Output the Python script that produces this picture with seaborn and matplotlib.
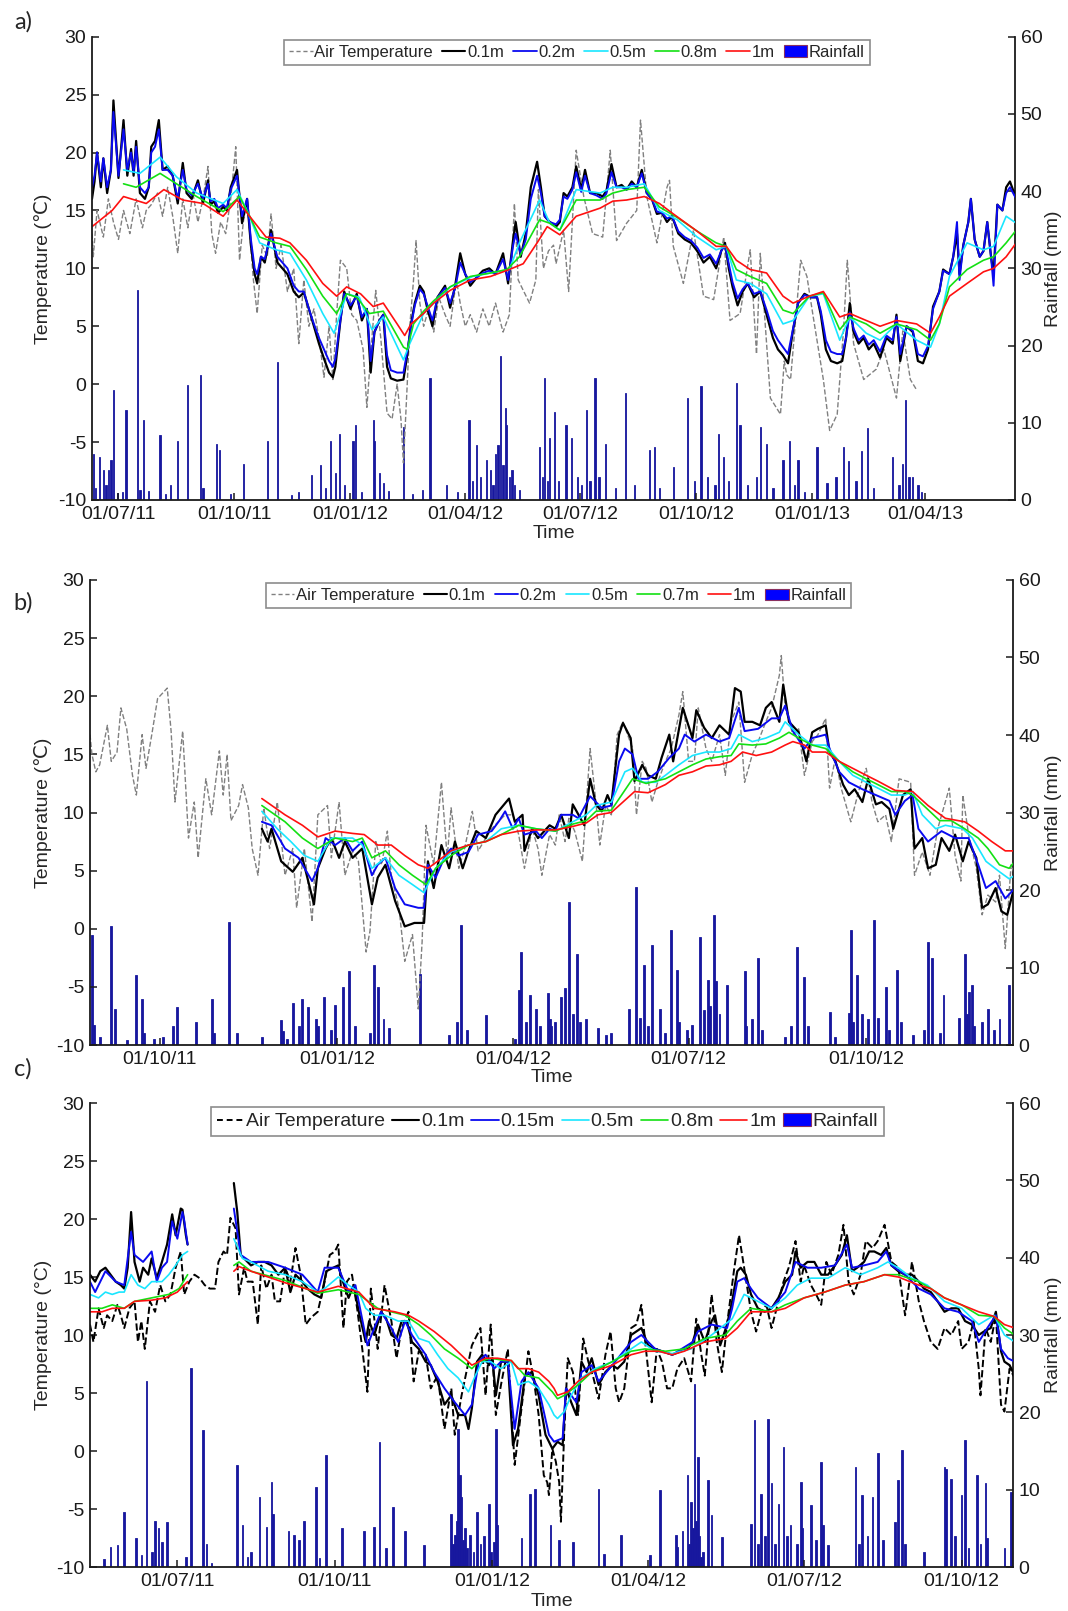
import numpy as np
import pandas as pd
import matplotlib
matplotlib.use("Agg")
import matplotlib.pyplot as plt
from matplotlib.lines import Line2D
from matplotlib.patches import Patch
import seaborn as sns

# ------------------------------------------------------------------ data
# (day offset from panel start, value)
# ---------------- panel a (start 2011-06-10)
a_start = "2011-06-10"
a_air = [(0,13.0),(1,11.0),(4,15.0),(9,12.7),(13,16.0),(17,14.0),(21,12.5),(25,15.0),(30,13.0),(35,16.0),(40,13.5),(43,15.0),(47,15.5),(52,16.5),(56,14.5),(60,17.0),(64,14.5),(68,11.3),(72,16.0),(76,13.5),(80,16.5),(84,14.0),(88,16.0),(92,18.8),(95,13.0),(98,11.3),(102,14.0),(106,13.0),(110,16.0),(114,20.5),(117,10.7),(120,14.0),(123,16.0),(128,9.0),(131,6.1),(135,12.0),(139,11.0),(142,14.7),(146,10.0),(150,12.0),(155,8.0),(160,10.0),(164,3.5),(168,9.0),(172,5.0),(176,6.5),(180,4.0),(184,0.6),(188,5.0),(191,0.4),(194,6.0),(197,10.7),(202,10.0),(206,6.0),(210,5.5),(215,3.0),(218,-2.0),(222,4.0),(225,8.1),(229,4.0),(234,-2.5),(238,-3.0),(242,0.0),(245,-3.0),(247,-6.8),(250,0.0),(252,5.0),(255,9.0),(257,12.4),(260,7.0),(263,5.0),(267,6.5),(271,4.5),(275,7.5),(280,6.0),(284,5.0),(289,9.0),(292,7.0),(296,5.0),(300,6.0),(305,4.5),(310,6.5),(315,5.0),(320,7.0),(326,4.5),(331,6.0),(335,15.6),(338,9.0),(342,8.1),(347,7.0),(352,9.0),(354,16.8),(358,10.0),(362,11.5),(366,12.0),(368,10.4),(374,13.3),(378,8.0),(384,20.2),(390,16.2),(397,13.0),(405,12.7),(411,20.2),(416,12.4),(424,13.9),(432,15.0),(435,22.8),(440,16.2),(448,12.2),(456,17.0),(458,17.6),(461,11.9),(469,8.7),(477,13.3),(485,7.6),(493,7.3),(501,12.7),(506,5.5),(514,6.1),(522,11.6),(527,2.6),(530,11.3),(538,-1.2),(546,-2.6),(549,2.0),(551,0.8),(554,0.4),(562,10.7),(567,9.3),(572,5.8),(580,0.4),(585,-4.0),(591,-2.6),(596,4.7),(599,10.7),(604,3.5),(612,0.4),(622,1.3),(628,3.0),(638,-1.2),(643,4.6),(649,0.4),(654,-0.5)]
# (day, 0.1m, 0.2m)
a_shallow = [(0,16.0,17.0),(2,17.5,18.0),(4,20.0,20.0),(7,17.0,17.5),(9,19.5,19.5),(12,16.5,17.0),(15,18.5,18.5),(17,24.5,23.5),(21,17.8,18.0),(25,22.8,22.0),(28,18.0,18.5),(31,20.3,20.0),(33,18.0,18.3),(35,21.0,20.5),(38,16.5,17.0),(42,16.0,16.5),(45,17.0,17.0),(47,20.5,20.0),(50,21.0,20.5),(53,22.8,22.0),(56,18.5,18.5),(60,18.8,18.5),(64,18.0,18.0),(68,15.6,16.0),(72,19.1,18.5),(75,16.5,16.8),(79,16.0,16.3),(84,17.6,17.3),(88,15.6,16.0),(92,17.6,17.3),(94,15.5,15.8),(97,15.8,16.0),(100,14.8,15.2),(104,15.3,15.5),(107,15.0,15.2),(110,17.0,16.8),(115,18.5,18.0),(119,13.9,14.5),(123,16.0,16.0),(126,12.0,12.5),(129,9.5,10.0),(131,8.7,9.5),(134,11.0,11.0),(137,10.5,10.8),(142,13.3,13.0),(147,10.5,11.0),(151,10.0,10.5),(155,9.5,10.0),(160,8.0,8.5),(164,7.5,8.0),(168,7.9,8.0),(172,6.5,6.5),(176,5.0,5.2),(180,3.5,4.0),(184,2.2,3.0),(188,1.0,2.0),(191,0.6,1.5),(193,1.5,2.2),(197,5.5,5.5),(200,8.0,7.8),(205,6.5,6.8),(210,7.8,7.6),(214,5.5,5.8),(218,6.5,6.5),(221,1.0,2.0),(224,4.5,4.5),(228,5.5,5.5),(231,6.0,6.0),(234,1.5,2.5),(237,0.5,1.2),(242,0.3,1.0),(247,0.4,1.0),(250,2.5,2.8),(253,5.2,5.0),(256,7.0,6.8),(260,8.5,8.2),(263,8.0,7.8),(266,6.5,6.8),(270,5.0,5.5),(274,7.5,7.5),(280,8.5,8.3),(284,6.6,7.0),(288,8.5,8.3),(292,11.3,10.5),(296,9.5,9.5),(300,8.5,8.8),(305,9.2,9.2),(310,9.8,9.6),(315,10.0,9.8),(320,9.5,9.5),(326,11.3,10.8),(330,8.7,9.0),(334,12.5,12.0),(336,14.0,13.0),(340,11.0,11.2),(344,13.0,12.5),(348,17.0,16.0),(353,19.2,18.0),(356,17.0,16.5),(359,14.5,14.5),(363,14.0,14.0),(368,13.6,13.8),(371,14.0,14.2),(374,16.5,16.2),(377,16.2,16.0),(381,17.0,16.8),(384,18.8,18.3),(388,16.8,16.6),(391,18.5,18.0),(395,16.5,16.5),(400,16.5,16.3),(405,16.2,16.0),(408,16.7,16.5),(412,19.0,18.3),(416,17.0,17.0),(420,17.2,17.0),(424,16.8,16.8),(428,17.5,17.3),(432,17.0,17.0),(436,18.5,18.2),(440,16.5,16.5),(444,16.0,16.0),(448,14.7,14.9),(452,14.8,14.8),(456,14.0,14.3),(460,14.5,14.5),(465,13.0,13.2),(470,12.5,12.7),(475,12.2,12.4),(480,11.5,11.8),(485,10.5,10.9),(490,11.0,11.2),(495,10.0,10.4),(499,11.5,11.5),(502,12.2,12.0),(505,10.0,10.4),(508,8.4,8.8),(512,6.8,7.4),(516,8.0,8.2),(520,8.7,8.7),(525,7.5,7.8),(530,8.0,8.0),(535,6.0,6.4),(540,4.0,4.6),(544,3.0,3.8),(548,2.5,3.2),(552,1.8,2.6),(556,4.7,4.8),(560,7.0,7.0),(565,7.8,7.7),(570,7.5,7.5),(575,7.5,7.5),(578,6.0,6.3),(582,3.0,3.8),(586,2.0,2.8),(591,1.8,2.6),(595,2.0,2.6),(598,4.0,4.0),(601,7.0,6.2),(604,4.5,4.8),(608,3.5,3.8),(612,4.0,4.2),(616,3.0,3.4),(620,3.5,3.8),(625,2.3,2.8),(630,4.0,4.2),(635,3.5,3.8),(638,6.0,5.8),(641,2.0,2.6),(646,5.0,5.0),(651,4.5,4.6),(655,2.0,2.6),(659,1.8,2.4),(663,3.0,3.3),(667,6.7,6.5),(672,8.0,8.0),(675,9.9,9.8),(680,9.5,9.5),(683,11.0,11.0),(686,13.0,14.0),(688,9.5,9.0),(691,12.0,12.0),(695,14.0,14.0),(697,16.0,16.0),(700,12.5,12.5),(704,11.0,11.0),(707,11.5,11.5),(710,14.0,14.0),(713,11.0,11.0),(715,9.5,8.5),(718,15.5,15.5),(722,15.0,15.0),(725,17.0,16.5),(728,17.5,17.0),(733,16.0,16.0)]
a_t05 = [(0,16.2),(25,18.5),(38,18.2),(54,19.6),(67,17.9),(83,16.5),(104,15.6),(115,16.8),(125,14.5),(133,12.2),(146,11.6),(157,11.3),(170,9.0),(183,6.1),(192,4.4),(202,7.8),(212,7.5),(222,4.7),(231,5.8),(247,2.1),(252,3.5),(263,6.1),(271,7.0),(284,8.4),(302,9.3),(316,9.6),(331,9.9),(339,12.2),(355,15.9),(363,13.9),(371,13.3),(384,16.8),(403,16.5),(413,17.0),(424,17.0),(438,17.3),(450,15.0),(464,14.2),(480,12.7),(495,11.6),(503,11.9),(511,9.0),(522,8.7),(535,7.8),(548,5.2),(556,5.5),(569,7.6),(580,7.8),(593,3.8),(601,5.8),(614,4.4),(625,3.8),(638,5.2),(654,3.8),(665,3.2),(672,5.2),(680,9.3),(694,12.2),(707,11.6),(715,11.9),(725,14.5),(733,13.9)]
a_t08 = [(0,14.9),(25,17.3),(35,17.0),(54,18.2),(67,17.3),(83,16.2),(104,14.9),(117,16.2),(125,14.5),(133,12.7),(146,12.2),(157,11.9),(170,9.9),(183,7.6),(194,6.1),(202,7.8),(210,7.5),(220,6.1),(231,6.3),(247,3.2),(250,3.0),(255,5.2),(263,6.3),(271,7.2),(284,8.4),(300,9.3),(316,9.6),(329,9.9),(339,11.0),(355,14.2),(363,13.9),(371,13.3),(384,15.9),(403,15.9),(413,16.5),(424,16.8),(438,17.0),(450,15.3),(464,14.4),(480,13.2),(495,12.2),(503,11.9),(511,9.9),(522,9.3),(535,8.7),(548,6.4),(556,6.1),(569,7.6),(580,7.9),(593,4.7),(601,5.8),(614,5.2),(625,4.4),(638,5.2),(654,4.7),(665,3.8),(672,5.2),(680,8.4),(694,9.9),(707,10.7),(715,11.0),(725,12.2),(733,13.3)]
a_t10 = [(0,13.6),(16,15.0),(25,16.2),(43,15.6),(57,16.8),(72,15.9),(88,15.6),(104,14.5),(115,15.9),(125,14.5),(138,12.7),(149,12.6),(157,12.2),(170,10.7),(183,8.7),(194,7.6),(202,8.4),(213,7.8),(223,6.7),(231,7.0),(242,5.2),(248,4.2),(253,5.2),(263,6.1),(271,7.0),(284,8.1),(300,9.0),(316,9.3),(331,9.9),(342,10.4),(353,12.2),(361,13.6),(371,12.9),(384,14.5),(403,15.2),(413,15.8),(424,15.9),(438,16.2),(450,15.6),(461,14.7),(480,13.2),(495,11.9),(503,11.9),(511,10.7),(522,9.9),(535,9.6),(548,7.6),(556,7.0),(569,7.6),(580,8.0),(593,5.8),(601,6.1),(614,5.5),(625,5.0),(638,5.5),(654,5.2),(665,4.4),(672,5.8),(680,7.6),(694,8.7),(707,9.7),(715,10.0),(725,11.0),(733,12.2)]
a_rain = [(1,6.0),(3,1.5),(6,5.6),(9,3.9),(11,2.0),(13,3.9),(15,5.2),(17,14.2),(20,0.9),(24,1.0),(27,11.6),(36,27.2),(38,1.3),(41,10.4),(45,1.2),(54,8.4),(58,0.8),(62,1.9),(68,7.6),(76,14.9),(86,16.2),(88,1.5),(99,7.3),(101,6.5),(110,0.8),(120,4.7),(139,7.6),(147,17.9),(158,0.6),(164,1.1),(174,3.2),(181,4.5),(185,1.5),(189,7.6),(193,3.5),(196,8.6),(200,2.0),(207,7.6),(209,9.7),(214,1.0),(223,10.4),(224,7.6),(228,3.5),(231,2.2),(235,1.2),(247,9.5),(254,0.8),(262,1.3),(268,15.8),(281,1.9),(290,1.0),(299,10.4),(302,2.5),(305,7.1),(308,3.0),(313,5.2),(316,3.9),(318,2.0),(320,6.0),(322,7.1),(324,18.6),(326,4.5),(328,11.9),(329,9.7),(331,3.0),(333,3.9),(335,2.0),(339,1.3),(355,6.9),(357,3.0),(359,15.8),(361,2.5),(363,8.0),(367,11.4),(370,2.5),(376,9.7),(380,8.0),(385,3.0),(388,2.0),(392,11.6),(395,2.5),(399,15.8),(402,3.0),(407,7.3),(415,1.5),(423,13.8),(430,2.0),(442,6.5),(446,6.9),(450,1.5),(461,4.3),(472,13.2),(478,2.5),(483,14.7),(488,3.0),(494,2.0),(497,8.6),(501,5.6),(505,2.5),(511,15.1),(514,9.7),(520,2.0),(527,3.0),(530,9.5),(535,7.3),(540,1.5),(548,5.2),(553,7.6),(557,2.0),(560,5.2),(565,1.0),(575,6.9),(583,2.2),(590,3.0),(596,6.9),(600,5.0),(606,2.5),(610,6.3),(615,9.3),(620,1.5),(635,5.6),(640,2.0),(643,4.7),(645,12.9),(648,3.0),(651,3.0),(655,1.9),(658,1.0)]
a_ticks = ["01/07/11","01/10/11","01/01/12","01/04/12","01/07/12","01/10/12","01/01/13","01/04/13"]

# ---------------- panel b (start 2011-08-26)
b_start = "2011-08-26"
b_air = [(0,16.7),(1,15.0),(3,13.5),(5,14.1),(9,17.5),(11,14.4),(14,15.2),(16,19.0),(19,17.2),(22,13.2),(24,11.5),(27,16.7),(29,13.8),(32,16.7),(35,19.8),(40,20.7),(42,17.0),(44,10.9),(48,17.0),(51,7.8),(54,10.9),(56,6.1),(60,12.9),(63,9.8),(67,15.3),(69,11.5),(71,15.0),(73,9.3),(77,10.6),(79,12.4),(82,10.4),(84,6.9),(87,4.6),(90,10.4),(93,6.9),(97,10.9),(101,4.6),(105,6.9),(107,1.8),(111,6.9),(115,0.6),(118,9.8),(123,10.6),(125,6.1),(129,10.9),(132,4.6),(136,6.7),(139,5.8),(143,-2.0),(145,-0.2),(148,7.5),(151,5.5),(154,8.4),(156,4.6),(160,1.8),(163,-2.8),(167,-0.5),(170,-6.9),(172,-1.1),(174,8.9),(178,5.5),(182,12.6),(185,6.1),(187,10.4),(191,5.2),(194,6.9),(198,10.1),(201,6.7),(205,7.8),(208,8.6),(212,9.3),(215,9.8),(219,9.8),(222,8.1),(225,5.2),(229,8.6),(232,6.9),(234,4.6),(238,8.1),(241,7.2),(243,9.8),(246,7.5),(248,9.5),(251,8.4),(255,5.8),(259,15.5),(262,10.9),(264,7.2),(267,10.6),(270,9.8),(273,16.7),(276,17.8),(281,15.5),(283,9.8),(286,14.4),(288,13.8),(291,10.9),(294,12.6),(298,14.4),(301,15.5),(305,18.4),(307,20.4),(310,14.4),(313,14.4),(315,19.0),(319,15.5),(322,14.4),(326,16.7),(329,13.2),(332,17.8),(336,19.5),(339,12.6),(343,15.0),(346,16.1),(350,17.8),(353,19.0),(357,21.8),(358,23.5),(360,19.0),(364,16.7),(367,17.2),(370,13.2),(374,16.1),(377,16.7),(381,18.1),(383,12.1),(386,14.7),(389,12.1),(394,9.2),(398,11.8),(402,13.8),(405,10.9),(408,9.2),(412,9.8),(415,7.5),(419,12.9),(425,12.6),(427,4.6),(431,6.6),(435,4.6),(439,8.6),(445,12.1),(448,6.3),(451,4.1),(452,11.5),(455,8.1),(459,5.2),(462,1.2),(465,2.9),(469,2.3),(471,4.6),(474,-1.7),(477,5.5),(479,4.6)]
b_t01 = [(89,8.6),(92,7.5),(94,8.6),(99,5.8),(105,4.9),(110,6.1),(116,2.1),(118,5.2),(122,6.9),(125,7.8),(129,6.1),(132,7.5),(136,6.1),(141,6.9),(146,2.1),(149,4.4),(153,5.5),(158,2.4),(163,0.2),(168,0.5),(173,0.5),(175,5.8),(178,3.5),(182,7.2),(186,5.2),(189,7.5),(193,5.2),(196,6.7),(200,8.4),(205,7.8),(210,9.8),(213,10.4),(217,11.2),(220,9.2),(224,9.8),(225,6.7),(229,8.6),(232,7.8),(238,8.9),(241,8.6),(244,9.8),(248,7.8),(250,10.7),(253,9.8),(256,8.9),(259,12.9),(262,10.7),(265,10.1),(268,11.5),(270,10.7),(274,16.7),(276,17.7),(280,16.4),(282,12.7),(286,14.1),(289,13.2),(293,12.9),(296,14.7),(300,16.7),(302,14.4),(307,19.0),(312,16.4),(314,18.8),(318,17.3),(322,16.4),(326,17.5),(331,16.7),(334,20.7),(337,20.4),(339,17.8),(343,17.8),(347,17.5),(350,19.0),(353,19.5),(357,17.8),(359,21.0),(362,17.8),(367,16.9),(371,14.4),(374,16.9),(377,17.2),(381,17.5),(383,15.2),(386,14.4),(390,12.4),(393,11.5),(396,12.0),(400,10.9),(403,12.9),(407,10.7),(410,10.9),(414,10.3),(416,8.6),(421,11.5),(425,12.0),(427,6.9),(431,7.8),(434,5.2),(438,5.5),(441,7.8),(445,6.7),(448,8.1),(452,5.8),(455,7.5),(459,6.1),(462,1.8),(465,2.1),(469,3.5),(472,1.5),(475,1.2),(479,3.8)]
b_t02 = [(89,9.2),(94,8.9),(101,6.9),(108,6.1),(115,4.1),(118,5.2),(122,7.8),(127,7.2),(132,7.8),(136,6.7),(141,7.5),(146,4.6),(149,5.5),(153,6.1),(158,3.5),(163,2.1),(170,1.8),(173,1.8),(175,5.5),(179,4.4),(184,6.3),(187,6.9),(191,6.3),(196,6.6),(201,8.1),(208,8.4),(212,9.3),(215,10.1),(219,8.6),(222,9.5),(225,8.1),(231,8.4),(234,7.8),(238,8.6),(241,8.4),(244,9.8),(250,9.8),(253,9.5),(259,11.4),(265,10.4),(270,10.6),(274,14.4),(277,15.5),(281,15.0),(284,12.9),(289,12.9),(294,13.5),(300,14.7),(305,15.5),(308,16.7),(313,16.1),(319,16.7),(326,16.1),(331,16.4),(336,19.0),(339,17.0),(346,17.2),(353,18.1),(357,18.1),(360,19.2),(364,17.0),(370,15.5),(374,16.4),(381,16.7),(383,15.5),(388,13.5),(393,12.6),(400,12.0),(407,11.5),(414,11.0),(417,9.8),(422,11.0),(426,11.5),(429,8.6),(434,7.5),(441,8.4),(448,7.8),(455,7.8),(460,5.5),(464,3.5),(469,4.1),(474,2.6),(479,3.5)]
b_t05 = [(89,10.1),(97,8.6),(104,7.5),(111,6.3),(118,5.8),(125,7.8),(136,7.8),(141,7.2),(146,5.2),(153,6.1),(160,4.6),(167,3.8),(173,3.1),(179,5.2),(187,6.6),(196,7.2),(205,7.5),(213,8.6),(222,8.9),(231,8.6),(241,8.4),(250,9.2),(257,9.8),(262,10.6),(270,10.9),(277,13.5),(281,13.8),(286,12.6),(293,12.6),(298,13.2),(305,14.1),(312,14.9),(319,15.2),(326,15.2),(332,15.5),(336,16.7),(343,16.1),(350,16.4),(357,16.9),(360,17.8),(367,16.7),(374,15.8),(381,15.8),(388,14.4),(395,13.2),(402,12.6),(408,12.1),(415,11.5),(422,11.5),(426,11.8),(431,9.8),(438,8.6),(443,8.9),(452,8.6),(457,7.8),(464,5.8),(471,4.9),(476,4.3),(479,4.6)]
b_t07 = [(89,10.6),(101,9.2),(110,7.8),(118,6.9),(127,7.8),(136,7.5),(141,7.8),(146,6.1),(153,6.7),(160,5.5),(167,4.6),(174,3.8),(179,5.2),(187,6.3),(196,7.2),(205,7.5),(213,8.1),(222,8.9),(231,8.6),(241,8.4),(250,9.0),(257,9.3),(262,10.1),(270,10.2),(281,12.9),(288,12.5),(298,12.9),(305,13.5),(312,14.1),(319,14.6),(326,14.8),(332,14.9),(336,15.9),(343,15.8),(350,15.9),(357,16.4),(362,16.9),(367,16.4),(374,15.8),(381,15.5),(388,14.4),(395,13.5),(402,12.9),(408,12.4),(415,11.8),(422,11.8),(426,11.5),(433,10.4),(440,9.3),(446,9.3),(453,8.6),(460,7.8),(465,6.9),(471,5.5),(476,5.2),(479,5.8)]
b_t10 = [(89,11.2),(101,9.8),(110,8.9),(118,7.9),(127,8.4),(136,8.2),(142,8.1),(149,7.2),(156,7.2),(163,6.3),(170,5.5),(175,5.2),(180,5.8),(187,6.7),(196,7.2),(205,7.5),(213,8.1),(222,8.4),(231,8.5),(241,8.5),(250,8.8),(257,9.1),(263,9.8),(270,10.0),(282,11.8),(289,11.7),(298,12.4),(305,13.2),(312,13.5),(319,14.0),(326,14.1),(332,14.4),(338,15.2),(345,14.9),(353,15.2),(360,15.8),(364,16.1),(370,15.8),(374,15.2),(381,15.2),(388,14.4),(395,13.8),(402,13.2),(408,12.7),(417,11.9),(426,11.8),(434,10.6),(443,9.5),(453,9.2),(460,8.4),(467,7.5),(474,6.7),(479,6.7)]
b_rain = [(1,14.2),(2,2.6),(5,1.0),(11,15.3),(13,4.7),(19,0.6),(24,9.0),(27,6.0),(28,1.5),(33,0.8),(38,1.0),(43,2.4),(45,4.9),(55,3.0),(63,6.0),(64,1.5),(72,15.9),(76,1.5),(89,1.0),(99,3.2),(100,1.8),(102,0.8),(105,5.4),(108,2.5),(110,6.0),(113,4.9),(117,3.4),(118,2.4),(121,6.2),(125,2.0),(127,5.2),(131,7.5),(134,9.5),(137,2.5),(145,1.5),(147,10.3),(149,7.5),(152,3.4),(155,2.2),(171,9.2),(186,1.3),(190,3.0),(192,15.5),(195,2.0),(205,3.9),(220,0.8),(222,7.1),(223,12.0),(226,3.0),(228,6.5),(231,4.7),(233,2.5),(237,6.7),(238,3.4),(239,2.4),(241,3.0),(244,6.2),(246,7.3),(248,18.5),(250,4.0),(252,11.8),(254,3.0),(257,3.4),(263,2.2),(267,1.3),(270,1.5),(279,4.7),(283,20.4),(285,3.5),(287,10.3),(289,2.5),(291,12.9),(295,4.7),(298,1.5),(301,14.8),(304,9.7),(305,3.0),(309,2.0),(312,2.6),(316,14.0),(318,4.5),(320,8.4),(321,5.0),(323,16.8),(324,8.2),(326,4.0),(330,7.7),(339,9.5),(340,2.5),(343,3.4),(346,11.2),(348,2.0),(360,1.0),(363,2.4),(366,12.7),(370,8.8),(372,2.5),(383,4.3),(386,1.0),(393,4.1),(394,14.8),(395,3.0),(397,9.0),(400,4.0),(403,3.4),(406,16.1),(408,3.5),(412,7.5),(414,2.0),(418,9.7),(420,3.0),(426,1.3),(432,2.0),(434,13.3),(436,11.2),(440,1.5),(442,6.5),(450,3.5),(453,11.8),(454,4.0),(455,6.9),(457,7.7),(458,2.5),(462,3.0),(465,4.7),(468,2.0),(471,3.4),(476,7.7)]
b_ticks = ["01/10/11","01/01/12","01/04/12","01/07/12","01/10/12"]

# ---------------- panel c (start 2011-05-11)
c_start = "2011-05-11"
c_air = [(0,10.9),(2,9.4),(5,12.3),(8,10.6),(10,11.7),(13,11.2),(16,12.6),(18,11.7),(20,10.6),(23,12.3),(26,12.9),(28,9.4),(30,11.2),(32,8.8),(35,12.9),(38,12.0),(41,14.3),(44,12.9),(47,13.5),(50,15.8),(53,17.2),(55,13.5),(58,14.6),(61,15.2),(64,14.9),(67,14.3),(70,14.0),(73,14.0),(75,16.3),(78,17.2),(80,16.9),(82,20.1),(85,19.2),(87,13.5),(90,15.8),(92,14.6),(95,14.6),(98,10.9),(100,16.0),(103,14.0),(106,15.2),(108,12.9),(111,12.9),(114,15.8),(117,14.6),(120,17.5),(123,15.2),(126,10.9),(129,11.5),(133,12.0),(137,14.6),(140,16.9),(143,17.2),(145,17.8),(148,10.6),(150,14.6),(153,15.2),(156,12.3),(159,8.8),(162,5.1),(164,14.0),(168,8.8),(172,14.3),(176,11.2),(179,8.0),(182,10.6),(186,12.0),(189,6.0),(192,8.6),(196,8.3),(199,5.4),(203,6.5),(207,1.9),(211,5.4),(213,1.4),(217,4.8),(223,9.1),(228,10.6),(231,4.8),(234,10.9),(237,3.1),(240,5.7),(244,8.8),(248,-1.2),(252,3.7),(256,8.6),(259,6.3),(262,3.1),(265,-2.1),(267,-2.7),(268,-3.8),(270,0.2),(272,-0.9),(274,-2.7),(275,-6.1),(277,1.9),(279,8.0),(282,6.8),(285,3.1),(288,9.7),(291,7.7),(294,6.3),(297,4.5),(301,8.3),(304,10.3),(307,5.4),(309,4.2),(312,5.4),(316,10.6),(319,10.9),(322,12.6),(325,8.3),(328,4.2),(331,8.8),(334,7.7),(337,5.4),(340,5.4),(343,7.1),(347,8.0),(351,6.0),(354,11.4),(357,8.3),(359,6.5),(363,13.5),(366,9.4),(369,6.8),(372,10.9),(376,15.5),(379,18.6),(382,15.8),(386,12.0),(389,10.3),(392,12.0),(395,12.6),(398,10.6),(402,12.9),(405,14.6),(408,15.8),(412,18.1),(415,14.6),(417,16.0),(421,14.3),(424,13.5),(427,12.6),(430,16.3),(433,15.2),(437,16.9),(440,19.5),(443,14.6),(446,13.5),(450,15.2),(453,18.1),(457,17.5),(460,18.1),(464,19.5),(468,16.3),(472,15.8),(476,11.7),(480,16.3),(484,12.9),(487,11.2),(491,9.4),(495,8.8),(499,10.6),(503,10.0),(507,11.2),(509,8.8),(513,9.4),(516,11.2),(519,7.1),(520,4.8),(523,10.6),(526,9.4),(529,11.7),(532,4.0),(534,3.4),(537,7.1),(540,6.3)]
c_t01 = [(0,15.2),(3,14.6),(6,15.5),(9,15.8),(12,15.2),(15,14.6),(18,14.3),(20,14.0),(22,15.8),(24,20.6),(26,16.3),(29,14.6),(31,15.8),(34,15.2),(36,16.6),(39,14.9),(42,16.3),(45,17.8),(48,20.4),(50,18.6),(53,20.9),(54,20.8),(56,18.6),(57,17.8),
         (84,23.1),(86,20.6),(88,16.9),(90,16.6),(94,16.0),(98,16.3),(102,16.3),(106,16.0),(110,15.2),(114,15.8),(117,13.7),(120,15.2),(124,14.6),(127,14.0),(131,13.5),(135,13.2),(138,15.5),(142,15.8),(145,16.0),(147,14.9),(151,13.2),(154,14.3),(157,12.0),(161,9.4),(163,11.2),(166,10.0),(170,12.0),(173,11.4),(176,10.0),(179,9.7),(182,11.2),(185,11.2),(188,9.4),(192,8.8),(196,7.7),(199,7.4),(203,6.0),(207,4.0),(211,4.8),(215,3.1),(219,3.1),(221,1.9),(223,3.7),(226,7.7),(229,8.3),(233,7.4),(235,8.0),(237,4.8),(240,7.7),(244,7.7),(247,0.5),(250,1.9),(254,6.5),(258,6.8),(262,4.8),(266,1.4),(270,0.2),(273,0.8),(276,0.5),(278,5.4),(281,4.2),(284,3.1),(287,7.7),(290,6.8),(293,8.0),(297,5.7),(301,6.8),(305,7.4),(308,7.1),(312,7.7),(316,10.0),(322,10.6),(326,9.1),(330,8.8),(334,8.6),(340,8.3),(345,8.6),(349,8.8),(352,9.4),(355,10.9),(359,9.4),(363,11.2),(365,11.7),(368,9.1),(372,10.9),(375,12.9),(378,15.5),(380,15.8),(383,15.2),(386,13.5),(390,12.3),(394,12.0),(398,12.3),(402,13.2),(406,14.6),(410,15.2),(412,17.2),(415,15.8),(419,16.3),(423,16.3),(427,15.2),(431,15.2),(435,16.0),(439,16.9),(442,18.6),(445,15.5),(448,15.8),(452,16.3),(455,17.2),(458,17.2),(462,16.9),(465,17.5),(468,16.0),(472,15.5),(476,15.2),(480,15.2),(484,14.6),(487,14.0),(491,13.7),(495,12.9),(499,12.0),(503,12.3),(507,12.3),(511,11.2),(515,10.9),(519,10.0),(522,10.3),(526,10.6),(529,12.0),(532,8.6),(534,7.7),(537,7.4),(540,6.5)]
c_t015 = [(0,14.6),(3,13.7),(9,15.5),(15,14.6),(20,14.3),(24,18.9),(26,16.9),(31,16.3),(36,17.2),(39,14.6),(42,15.8),(45,16.3),(48,19.8),(51,18.3),(54,20.6),(55,19.9),(57,17.8),
          (84,20.9),(88,16.9),(94,16.3),(104,16.3),(114,15.8),(124,15.2),(133,13.7),(137,15.8),(145,15.8),(151,13.7),(155,14.3),(162,9.1),(166,10.6),(170,12.0),(176,10.6),(180,9.4),(184,11.2),(188,10.0),(196,8.3),(201,6.8),(207,5.4),(213,4.2),(219,3.1),(223,4.0),(227,7.7),(231,8.3),(236,7.1),(240,7.7),(244,7.7),(248,1.9),(252,6.0),(256,6.8),(262,5.4),(268,1.4),(271,0.8),(276,1.1),(278,5.4),(284,4.2),(287,6.8),(293,7.4),(297,6.0),(305,7.4),(316,9.4),(322,10.0),(330,8.8),(340,8.3),(352,9.4),(355,10.3),(363,10.9),(372,10.6),(375,12.3),(378,14.6),(382,14.9),(386,14.0),(390,13.2),(398,12.3),(406,13.7),(412,16.3),(419,15.8),(427,15.8),(435,16.0),(442,17.8),(445,15.8),(452,16.0),(460,16.3),(465,17.2),(468,16.0),(476,15.2),(484,14.0),(491,13.5),(499,12.3),(507,12.0),(515,11.2),(519,9.4),(524,10.6),(529,11.7),(532,8.8),(536,8.0),(540,7.7)]
c_t05 = [(0,13.5),(5,13.2),(9,13.7),(13,13.5),(17,13.7),(20,13.7),(24,15.2),(28,14.3),(32,14.0),(36,14.6),(42,14.6),(46,15.2),(50,16.0),(54,16.9),(57,17.2),
         (84,18.3),(89,16.6),(94,16.3),(104,15.5),(114,15.2),(124,14.6),(133,13.7),(137,14.0),(145,15.0),(151,14.3),(157,13.7),(161,12.3),(166,11.7),(172,11.7),(180,11.2),(186,11.2),(192,9.7),(198,9.4),(203,8.3),(209,7.1),(215,6.3),(221,5.1),(225,6.5),(229,7.7),(234,7.7),(240,7.1),(246,7.7),(250,5.7),(256,6.0),(262,5.4),(268,4.0),(271,3.1),(273,2.8),(277,3.4),(281,4.8),(287,6.3),(295,7.1),(305,7.7),(316,8.8),(322,9.4),(330,8.6),(340,8.4),(351,8.8),(363,10.0),(375,11.4),(382,13.5),(390,12.9),(398,12.3),(406,13.2),(413,14.3),(421,14.9),(431,14.9),(441,15.8),(450,15.2),(460,15.8),(466,16.3),(472,15.8),(480,14.9),(489,14.3),(499,12.9),(509,12.3),(519,10.9),(528,11.7),(534,10.0),(540,9.4)]
c_t08 = [(0,12.3),(7,12.3),(13,12.6),(20,12.3),(26,12.9),(36,13.2),(46,13.5),(52,14.0),(57,15.2),
         (84,16.0),(87,16.3),(94,15.5),(114,14.7),(133,13.6),(145,13.9),(157,13.5),(168,12.3),(176,12.0),(184,11.7),(192,10.9),(199,10.0),(207,8.8),(215,8.0),(223,7.1),(227,7.7),(234,8.0),(242,7.8),(246,7.8),(254,6.5),(262,6.3),(270,5.1),(273,4.5),(277,4.8),(285,5.7),(293,6.8),(305,7.7),(316,8.6),(324,8.8),(336,8.6),(347,8.8),(359,9.7),(371,10.0),(378,11.2),(386,12.3),(398,12.0),(406,12.6),(417,13.2),(429,13.7),(441,14.3),(452,14.6),(464,15.2),(472,15.2),(484,14.6),(491,14.0),(499,13.2),(509,12.6),(519,11.7),(528,11.6),(534,10.6),(540,10.0)]
c_t10 = [(0,12.0),(7,12.0),(13,12.3),(20,12.3),(26,12.9),(36,13.0),(44,13.2),(51,13.7),(57,14.6),
         (84,15.5),(87,15.9),(94,15.5),(114,14.5),(133,13.7),(145,14.2),(157,13.7),(166,12.3),(178,12.0),(186,11.7),(192,11.2),(201,10.3),(211,9.1),(223,7.4),(231,8.0),(238,8.0),(246,7.8),(250,7.1),(256,7.1),(262,6.8),(268,6.0),(271,5.4),(273,4.8),(279,5.1),(285,6.0),(293,6.8),(305,7.4),(316,8.3),(324,8.6),(332,8.6),(340,8.3),(347,8.6),(359,9.4),(371,9.7),(378,10.6),(386,12.0),(398,12.0),(406,12.3),(417,13.2),(429,13.7),(441,14.3),(452,14.6),(464,15.2),(472,15.0),(484,14.3),(491,14.0),(499,13.2),(509,12.6),(519,12.0),(528,11.6),(534,10.9),(540,10.6)]
c_rain = [(8,1.0),(12,2.6),(16,2.8),(20,7.1),(27,3.7),(30,1.5),(33,24.0),(36,1.9),(38,6.0),(40,5.0),(42,3.2),(45,5.8),(56,1.3),(59,25.7),(66,17.7),(68,3.0),(71,0.5),(86,13.2),(89,5.4),(92,1.3),(94,1.9),(99,9.1),(103,5.2),(106,11.0),(107,6.9),(116,4.7),(119,4.1),(122,3.5),(125,6.0),(132,10.4),(134,1.1),(138,14.5),(147,5.0),(160,4.7),(166,5.2),(169,16.2),(173,2.4),(177,7.8),(184,4.7),(195,2.8),(211,6.9),(212,3.0),(213,4.1),(214,6.0),(215,17.9),(216,11.9),(217,9.0),(218,3.5),(219,5.0),(220,2.5),(222,4.1),(224,2.0),(226,7.1),(228,3.0),(230,4.0),(233,8.2),(234,2.0),(236,3.2),(237,17.9),(238,5.4),(252,3.7),(257,9.5),(260,10.1),(269,5.4),(274,3.5),(282,3.2),(297,10.1),(300,1.7),(310,4.1),(327,1.5),(333,9.9),(342,4.1),(343,2.6),(346,4.7),(349,11.9),(350,3.0),(351,8.4),(352,5.0),(353,23.7),(354,6.0),(355,14.2),(356,4.0),(357,1.3),(358,2.0),(361,11.2),(363,6.7),(369,3.9),(386,5.6),(388,19.0),(390,3.0),(392,9.5),(394,4.0),(396,19.2),(398,10.8),(400,3.0),(402,8.2),(405,15.5),(407,4.0),(409,5.4),(413,3.0),(415,11.0),(416,5.0),(421,8.0),(424,3.5),(427,13.6),(428,5.4),(431,2.8),(447,12.9),(449,3.0),(451,9.3),(454,4.0),(457,9.1),(460,14.7),(463,3.5),(470,5.8),(472,11.2),(474,15.1),(476,3.0),(487,1.9),(499,12.9),(500,12.7),(503,11.4),(505,4.0),(509,9.3),(511,16.4),(513,2.4),(518,11.9),(520,3.0),(523,10.8),(524,3.7),(534,2.4),(538,9.7)]
c_ticks = ["01/07/11","01/10/11","01/01/12","01/04/12","01/07/12","01/10/12"]

# ------------------------------------------------------------------ style
sns.set_style("ticks")
plt.rcParams["font.family"] = ["Liberation Sans", "DejaVu Sans"]
plt.rcParams["axes.unicode_minus"] = False

C_AIR = "#808080"
C01, C02, C05, C08, C10 = "#000000", "#0a0af0", "#19e6ff", "#13e013", "#ff1010"
C_RAIN = "#17179e"
W, H = 1068, 1611

fig = plt.figure(figsize=(W / 100, H / 100), dpi=100)


def frame(pairs, start, col=1):
    d = np.array([p[0] for p in pairs], float)
    v = np.array([p[col] for p in pairs], float)
    return pd.DataFrame({"date": pd.Timestamp(start) + pd.to_timedelta(d, unit="D"), "val": v})


def draw(ax, pairs, start, color, lw, ls="-", col=1, dashes=None):
    df = frame(pairs, start, col)
    # a logger gap (no readings for weeks) breaks the line
    seg = (df["date"].diff().dt.days > 24).cumsum()
    for _, g in df.groupby(seg):
        kw = {}
        if dashes is not None:
            kw["dashes"] = dashes
        sns.lineplot(data=g, x="date", y="val", ax=ax, color=color, lw=lw,
                     linestyle=ls, estimator=None, sort=False, legend=False, **kw)


def panel(rect_px, start, xmax_day, air, shallow, t05, t08, t10, rain, ticks,
          air_color, air_lw, deep_label, shallow2_label, leg_x, leg_fs, colsp, degree,
          time_off):
    l, r, t, b = rect_px
    ax = fig.add_axes([l / W, 1 - b / H, (r - l) / W, (b - t) / H])
    ax2 = ax.twinx()
    # rainfall
    rdf = frame(rain, start)
    ax2.bar(rdf["date"], rdf["val"], width=1.0, color=C_RAIN, edgecolor=C_RAIN, linewidth=0.6)
    ax2.set_ylim(0, 60)
    ax2.set_yticks(range(0, 61, 10))
    # temperatures
    draw(ax, air, start, air_color, air_lw, ls="--", dashes=(3, 2))
    draw(ax, shallow[0], start, C01, 1.6)
    draw(ax, shallow[1], start, C02, 1.4)
    draw(ax, t05, start, C05, 1.2)
    draw(ax, t08, start, C08, 1.2)
    draw(ax, t10, start, C10, 1.2)
    ax.set_zorder(ax2.get_zorder() + 1)
    ax.patch.set_visible(False)

    s = pd.Timestamp(start)
    ax.set_xlim(s, s + pd.Timedelta(days=xmax_day))
    ax.set_ylim(-10, 30)
    ax.set_yticks(range(-10, 31, 5))
    tick_dates = [pd.to_datetime(x, format="%d/%m/%y") for x in ticks]
    ax.set_xticks(tick_dates)
    ax.set_xticklabels(ticks)
    for a in (ax, ax2):
        a.spines["top"].set_visible(False)
        for sp in a.spines.values():
            sp.set_linewidth(1.3)
            sp.set_color("#1a1a1a")
        a.tick_params(direction="in", length=5, width=1.1, labelsize=14, pad=4, colors="#1a1a1a")
    ax.spines["right"].set_visible(False)
    ax2.spines["left"].set_visible(False)
    ax2.spines["bottom"].set_visible(False)

    ax.set_xlabel("Time", fontsize=14)
    ax.xaxis.label.set_va("center")
    ax.xaxis.set_label_coords(0.5, -time_off / (b - t))
    ax.set_ylabel("Temperature (" + degree + ")", fontsize=14)
    ax.yaxis.set_label_coords((52 - l) / (r - l), 0.5)
    ax2.set_ylabel("Rainfall (mm)", fontsize=14)
    ax2.yaxis.set_label_coords((1045 - l) / (r - l), 0.5)

    handles = [
        Line2D([], [], color=air_color, lw=air_lw, ls="--", dashes=(3, 2)),
        Line2D([], [], color=C01, lw=1.5),
        Line2D([], [], color=C02, lw=1.3),
        Line2D([], [], color=C05, lw=1.2),
        Line2D([], [], color=C08, lw=1.2),
        Line2D([], [], color=C10, lw=1.2),
        Patch(facecolor="#0000ff", edgecolor="#8a3060", linewidth=0.8),
    ]
    labels = ["Air Temperature", "0.1m", shallow2_label, "0.5m", deep_label, "1m", "Rainfall"]
    leg = ax.legend(handles, labels, loc="upper center", bbox_to_anchor=(leg_x, 1.0),
                    ncol=7, fontsize=leg_fs, frameon=True, fancybox=False,
                    framealpha=1, edgecolor="#8c8c8c", handlelength=1.4,
                    handletextpad=0.1, columnspacing=colsp, borderpad=0.3,
                    borderaxespad=0.2)
    leg.get_frame().set_linewidth(1.2)
    return ax


a_sh1 = [(p[0], p[1]) for p in a_shallow]
a_sh2 = [(p[0], p[2]) for p in a_shallow]
panel((92, 1015, 36.7, 500), a_start, 732, a_air, (a_sh1, a_sh2), a_t05, a_t08, a_t10,
      a_rain, a_ticks, C_AIR, 1.0, "0.8m", "0.2m", (577 - 92) / 923, 12, 0.55, "\u2103", 34)
panel((90, 1013, 580, 1045), b_start, 478, b_air, (b_t01, b_t02), b_t05, b_t07, b_t10,
      b_rain, b_ticks, C_AIR, 1.0, "0.7m", "0.2m", (558.5 - 90) / 923, 12, 0.55, "\u2103", 32)
panel((90, 1013, 1103, 1567), c_start, 539, c_air, (c_t01, c_t015), c_t05, c_t08, c_t10,
      c_rain, c_ticks, "#000000", 1.4, "0.8m", "0.15m", (547.5 - 90) / 923, 14, 0.35, "\u00b0C", 34)

for lab, y in (("a)", 22), ("b)", 603), ("c)", 1069)):
    fig.text(23 / W, 1 - y / H, lab, fontsize=17, family=["Lato", "DejaVu Sans"],
             ha="center", va="center")

fig.savefig("out.png", dpi=100)
